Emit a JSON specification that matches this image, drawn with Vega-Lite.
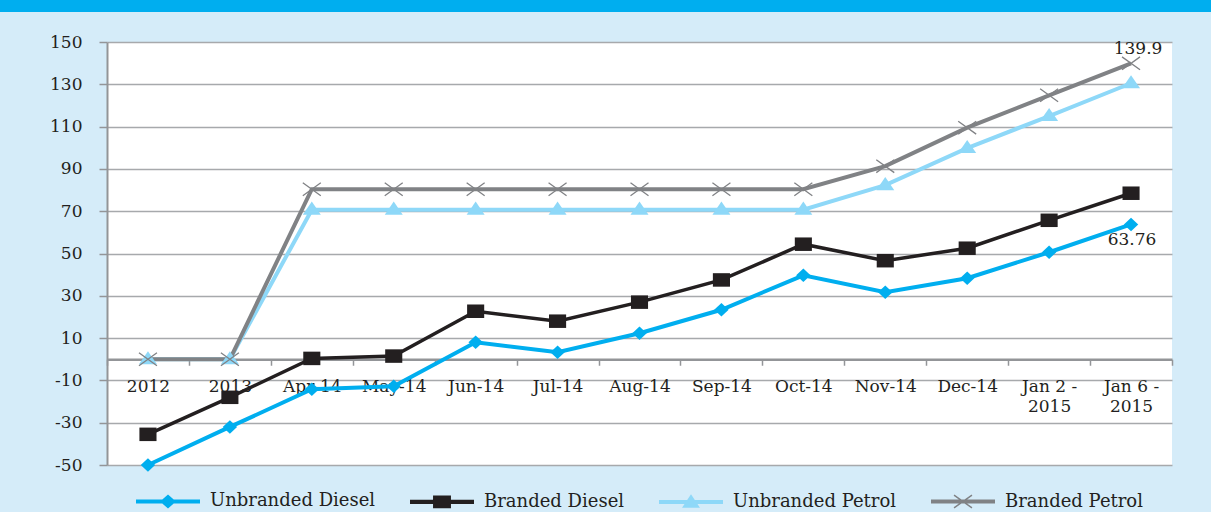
{
  "$schema": "https://vega.github.io/schema/vega-lite/v6.json",
  "background": "#D5ECF9",
  "padding": {"left": 0, "top": 0, "right": 0, "bottom": 0},
  "spacing": 30,
  "bounds": "flush",
  "center": true,
  "config": {"font": "DejaVu Serif", "view": {"stroke": null}},
  "vconcat": [
    {
      "width": 1279,
      "height": 12,
      "view": {"fill": "#00AEEF", "stroke": null},
      "data": {"values": [{"t": ""}]},
      "mark": {"type": "text"},
      "encoding": {"text": {"field": "t", "type": "nominal"}}
    },
    {
      "width": 1065,
      "height": 423,
      "view": {"fill": "#FFFFFF", "stroke": null},
      "data": {
        "values": [
          {"period": "2012", "series": "Unbranded Diesel", "value": -50},
          {"period": "2013", "series": "Unbranded Diesel", "value": -32},
          {"period": "Apr-14", "series": "Unbranded Diesel", "value": -14.2},
          {"period": "May-14", "series": "Unbranded Diesel", "value": -12.8},
          {"period": "Jun-14", "series": "Unbranded Diesel", "value": 8},
          {"period": "Jul-14", "series": "Unbranded Diesel", "value": 3.3},
          {"period": "Aug-14", "series": "Unbranded Diesel", "value": 12.3},
          {"period": "Sep-14", "series": "Unbranded Diesel", "value": 23.4},
          {"period": "Oct-14", "series": "Unbranded Diesel", "value": 39.7},
          {"period": "Nov-14", "series": "Unbranded Diesel", "value": 31.7},
          {"period": "Dec-14", "series": "Unbranded Diesel", "value": 38.3},
          {"period": "Jan 2 - 2015", "series": "Unbranded Diesel", "value": 50.6},
          {"period": "Jan 6 - 2015", "series": "Unbranded Diesel", "value": 63.76},
          {"period": "2012", "series": "Branded Diesel", "value": -35.5},
          {"period": "2013", "series": "Branded Diesel", "value": -18},
          {"period": "Apr-14", "series": "Branded Diesel", "value": 0.4},
          {"period": "May-14", "series": "Branded Diesel", "value": 1.5},
          {"period": "Jun-14", "series": "Branded Diesel", "value": 22.7},
          {"period": "Jul-14", "series": "Branded Diesel", "value": 18},
          {"period": "Aug-14", "series": "Branded Diesel", "value": 27},
          {"period": "Sep-14", "series": "Branded Diesel", "value": 37.5},
          {"period": "Oct-14", "series": "Branded Diesel", "value": 54.4},
          {"period": "Nov-14", "series": "Branded Diesel", "value": 46.6},
          {"period": "Dec-14", "series": "Branded Diesel", "value": 52.5},
          {"period": "Jan 2 - 2015", "series": "Branded Diesel", "value": 65.7},
          {"period": "Jan 6 - 2015", "series": "Branded Diesel", "value": 78.5},
          {"period": "2012", "series": "Unbranded Petrol", "value": 0},
          {"period": "2013", "series": "Unbranded Petrol", "value": 0},
          {"period": "Apr-14", "series": "Unbranded Petrol", "value": 70.7},
          {"period": "May-14", "series": "Unbranded Petrol", "value": 70.7},
          {"period": "Jun-14", "series": "Unbranded Petrol", "value": 70.7},
          {"period": "Jul-14", "series": "Unbranded Petrol", "value": 70.7},
          {"period": "Aug-14", "series": "Unbranded Petrol", "value": 70.7},
          {"period": "Sep-14", "series": "Unbranded Petrol", "value": 70.7},
          {"period": "Oct-14", "series": "Unbranded Petrol", "value": 70.7},
          {"period": "Nov-14", "series": "Unbranded Petrol", "value": 82.3},
          {"period": "Dec-14", "series": "Unbranded Petrol", "value": 99.8},
          {"period": "Jan 2 - 2015", "series": "Unbranded Petrol", "value": 115},
          {"period": "Jan 6 - 2015", "series": "Unbranded Petrol", "value": 130.5},
          {"period": "2012", "series": "Branded Petrol", "value": 0},
          {"period": "2013", "series": "Branded Petrol", "value": 0},
          {"period": "Apr-14", "series": "Branded Petrol", "value": 80.4},
          {"period": "May-14", "series": "Branded Petrol", "value": 80.4},
          {"period": "Jun-14", "series": "Branded Petrol", "value": 80.4},
          {"period": "Jul-14", "series": "Branded Petrol", "value": 80.4},
          {"period": "Aug-14", "series": "Branded Petrol", "value": 80.4},
          {"period": "Sep-14", "series": "Branded Petrol", "value": 80.4},
          {"period": "Oct-14", "series": "Branded Petrol", "value": 80.4},
          {"period": "Nov-14", "series": "Branded Petrol", "value": 91.3},
          {"period": "Dec-14", "series": "Branded Petrol", "value": 109.5},
          {"period": "Jan 2 - 2015", "series": "Branded Petrol", "value": 124.8},
          {"period": "Jan 6 - 2015", "series": "Branded Petrol", "value": 139.9}
        ]
      },
      "encoding": {
        "x": {
          "field": "period",
          "type": "nominal",
          "sort": ["2012", "2013", "Apr-14", "May-14", "Jun-14", "Jul-14", "Aug-14", "Sep-14", "Oct-14", "Nov-14", "Dec-14", "Jan 2 - 2015", "Jan 6 - 2015"],
          "scale": {
            "type": "band",
            "paddingInner": 0,
            "paddingOuter": 0,
            "domain": ["2012", "2013", "Apr-14", "May-14", "Jun-14", "Jul-14", "Aug-14", "Sep-14", "Oct-14", "Nov-14", "Dec-14", "Jan 2 - 2015", "Jan 6 - 2015"]
          },
          "axis": {
            "title": null,
            "orient": "bottom",
            "offset": -105.75,
            "tickBand": "extent",
            "domainColor": "#939598",
            "domainWidth": 2.5,
            "tickColor": "#939598",
            "tickWidth": 1.5,
            "tickSize": 6,
            "labelPadding": 13,
            "labelFont": "DejaVu Serif",
            "labelFontSize": 17,
            "labelColor": "#231F20",
            "labelAngle": 0,
            "labelOverlap": false,
            "labelLimit": 200,
            "labelLineHeight": 20,
            "labelExpr": "datum.label == 'Jan 2 - 2015' ? ['Jan 2 -', '2015'] : datum.label == 'Jan 6 - 2015' ? ['Jan 6 -', '2015'] : datum.label",
            "grid": false,
            "zindex": 0
          }
        },
        "y": {
          "field": "value",
          "type": "quantitative",
          "scale": {"domain": [-50, 150], "nice": false, "zero": false},
          "axis": {
            "title": null,
            "values": [-50, -30, -10, 10, 30, 50, 70, 90, 110, 130, 150],
            "labelExpr": "'' + datum.value",
            "domainColor": "#939598",
            "domainWidth": 2,
            "tickColor": "#939598",
            "tickWidth": 1.5,
            "tickSize": 8,
            "labelPadding": 17,
            "labelFont": "DejaVu Serif",
            "labelFontSize": 17,
            "labelColor": "#231F20",
            "gridColor": "#A7A9AC",
            "gridWidth": 1.5,
            "minExtent": 107,
            "zindex": 0
          }
        }
      },
      "layer": [
        {
          "transform": [{"filter": "datum.series == 'Unbranded Petrol'"}],
          "mark": {"type": "line", "strokeWidth": 4, "color": "#8ED8F8"}
        },
        {
          "transform": [{"filter": "datum.series == 'Branded Petrol'"}],
          "mark": {"type": "line", "strokeWidth": 4, "color": "#808285"}
        },
        {
          "transform": [{"filter": "datum.series == 'Unbranded Diesel'"}],
          "mark": {"type": "line", "strokeWidth": 4, "color": "#00AEEF"}
        },
        {
          "transform": [{"filter": "datum.series == 'Branded Diesel'"}],
          "mark": {"type": "line", "strokeWidth": 3.5, "color": "#231F20"}
        },
        {
          "transform": [{"filter": "datum.series == 'Unbranded Diesel'"}],
          "mark": {"type": "point", "shape": "M-0.8,0L0,-0.75L0.8,0L0,0.75Z", "size": 324, "filled": true, "color": "#00AEEF", "opacity": 1}
        },
        {
          "transform": [{"filter": "datum.series == 'Branded Diesel'"}],
          "mark": {"type": "point", "shape": "M-0.95,-0.75L0.95,-0.75L0.95,0.75L-0.95,0.75Z", "size": 324, "filled": true, "color": "#231F20", "opacity": 1}
        },
        {
          "transform": [{"filter": "datum.series == 'Unbranded Petrol'"}],
          "mark": {"type": "point", "shape": "M0,-0.9L1,0.55L-1,0.55Z", "size": 324, "filled": true, "color": "#8ED8F8", "opacity": 1}
        },
        {
          "transform": [{"filter": "datum.series == 'Branded Petrol'"}],
          "mark": {"type": "point", "shape": "M-1,-0.72L1,0.72M-1,0.72L1,-0.72", "size": 324, "filled": false, "color": "#808285", "strokeWidth": 1.3, "opacity": 1}
        },
        {
          "transform": [{"filter": "false"}],
          "mark": {"type": "point", "filled": true, "opacity": 1, "size": 4096},
          "encoding": {
            "color": {
              "field": "series",
              "type": "nominal",
              "scale": {
                "domain": ["Unbranded Diesel", "Branded Diesel", "Unbranded Petrol", "Branded Petrol"],
                "range": ["#00AEEF", "#231F20", "#8ED8F8", "#808285"]
              },
              "legend": {
                "title": null,
                "orient": "none",
                "legendX": 135,
                "legendY": 468,
                "padding": 0,
                "direction": "horizontal",
                "symbolSize": 4096,
                "symbolOpacity": 1,
                "labelFont": "DejaVu Serif",
                "labelFontSize": 18,
                "labelColor": "#231F20",
                "labelOffset": 9,
                "columnPadding": 31,
                "labelLimit": 300
              }
            },
            "shape": {
              "field": "series",
              "type": "nominal",
              "scale": {
                "domain": ["Unbranded Diesel", "Branded Diesel", "Unbranded Petrol", "Branded Petrol"],
                "range": [
                  "M-1,-0.065L1,-0.065L1,0.065L-1,0.065Z M-0.25,0L0,-0.22L0.25,0L0,0.22Z",
                  "M-1,-0.065L1,-0.065L1,0.065L-1,0.065Z M-0.28,-0.2L0.28,-0.2L0.28,0.2L-0.28,0.2Z",
                  "M-1,-0.065L1,-0.065L1,0.065L-1,0.065Z M0,-0.24L0.28,0.18L-0.28,0.18Z",
                  "M-1,-0.065L1,-0.065L1,0.065L-1,0.065Z M-0.267,-0.218L0.293,0.182L0.267,0.218L-0.293,-0.182Z M-0.293,0.182L0.267,-0.218L0.293,-0.182L-0.267,0.218Z"
                ]
              },
              "legend": {
                "title": null,
                "orient": "none",
                "legendX": 135,
                "legendY": 468,
                "padding": 0,
                "direction": "horizontal",
                "symbolSize": 4096,
                "symbolOpacity": 1,
                "labelFont": "DejaVu Serif",
                "labelFontSize": 18,
                "labelColor": "#231F20",
                "labelOffset": 9,
                "columnPadding": 31,
                "labelLimit": 300
              }
            }
          }
        },
        {
          "transform": [{"filter": "datum.series == 'Branded Petrol' && datum.period == 'Jan 6 - 2015'"}],
          "mark": {"type": "text", "dx": 7, "dy": -14, "font": "DejaVu Serif", "fontSize": 17, "color": "#231F20"},
          "encoding": {"text": {"field": "value", "type": "quantitative", "format": ".1f"}}
        },
        {
          "transform": [{"filter": "datum.series == 'Unbranded Diesel' && datum.period == 'Jan 6 - 2015'"}],
          "mark": {"type": "text", "dx": 1, "dy": 16, "font": "DejaVu Serif", "fontSize": 17, "color": "#231F20"},
          "encoding": {"text": {"field": "value", "type": "quantitative", "format": ".2f"}}
        }
      ]
    }
  ]
}
